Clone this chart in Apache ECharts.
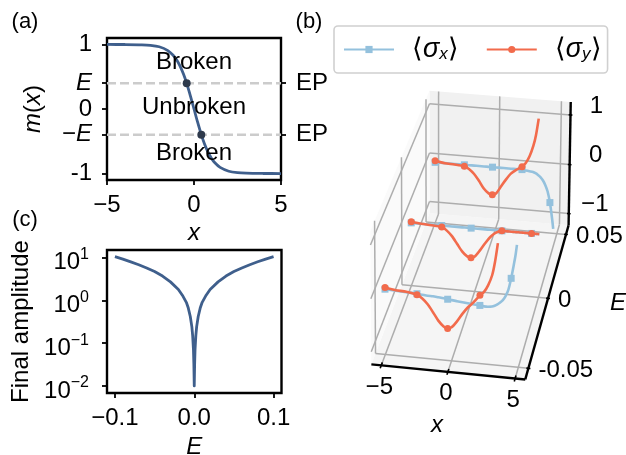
<!DOCTYPE html>
<html><head><meta charset="utf-8">
<style>html,body{margin:0;padding:0;background:#fff}#c{width:626px;height:455px}</style>
<script src="https://cdn.jsdelivr.net/npm/echarts@6/dist/echarts.min.js"></script>
</head><body><div id="c"></div>
<script>
// ---------- data ----------
const magX = [-5,-4,-3,-2.5,-2,-1.5,-1.2,-1,-0.8,-0.6,-0.42,-0.2,0,0.2,0.42,0.6,0.8,1,1.2,1.5,2,2.5,3,4,5];
const magM = [1,0.999,0.995,0.987,0.964,0.905,0.834,0.762,0.664,0.537,0.397,0.197,0,-0.197,-0.397,-0.537,-0.664,-0.762,-0.834,-0.905,-0.964,-0.987,-0.995,-0.999,-1];
const epLevels = [0.4,-0.4];
const epX = [-0.42,0.42];
const ampE = [-0.1,-0.09,-0.08,-0.07,-0.06,-0.05,-0.04,-0.03,-0.02,-0.015,-0.01,-0.0075,-0.005,-0.003,-0.002,-0.001,-0.0005,0,0.0005,0.001,0.002,0.003,0.005,0.0075,0.01,0.015,0.02,0.03,0.04,0.05,0.06,0.07,0.08,0.09,0.1];
const ampV = [10.5,9.2,7.95,6.8,5.7,4.7,3.7,2.7,1.8,1.32,0.9,0.66,0.42,0.24,0.15,0.07,0.033,0.01,0.033,0.07,0.15,0.24,0.42,0.66,0.9,1.32,1.8,2.7,3.7,4.7,5.7,6.8,7.95,9.2,10.5];
const sliceE = [0.05,0,-0.05];
const xs = [-5,-4.2,-3.4,-2.6,-2.2,-1.8,-1.4,-1,-0.6,-0.3,0,0.4,0.8,1.2,1.6,2.1,2.4,2.7,3,3.2,3.4,3.6,3.8,4,4.2,4.4,4.6,4.7,4.8,5];
const markerX = [-5,-2.6,-0.3,2.1,4.4];
const sxBack  = [0,0,0,0,0,0,0,0,0,0,0,0,0,0,0,0,-0.01,-0.02,-0.03,-0.05,-0.08,-0.12,-0.18,-0.27,-0.4,-0.62,-0.95,-1.15,null,null];
const syBack  = [0.03,0,-0.01,-0.03,-0.08,-0.17,-0.3,-0.45,-0.54,-0.56,-0.53,-0.38,-0.23,-0.1,-0.02,0.06,0.14,0.28,0.5,0.72,1.05,null,null,null,null,null,null,null,null,null];
const sxMid   = [0,0,0,0,0,0,0,0,0,0,0,0,0,0,0,0,0,0,0,0,0,0,0,0,0,0,0,0,0,0];
const syMid   = [0.02,0,-0.01,-0.03,-0.09,-0.19,-0.33,-0.47,-0.56,-0.58,-0.55,-0.42,-0.27,-0.14,-0.05,0,0,0,0,0,0,0,0,0,0,0,0,0,0,0];
const sxFront = [0,-0.01,-0.02,-0.03,-0.04,-0.05,-0.05,-0.06,-0.07,-0.08,-0.09,-0.1,-0.11,-0.12,-0.13,-0.14,-0.15,-0.15,-0.14,-0.12,-0.09,-0.05,0,0.08,0.2,0.42,0.7,0.85,1.05,null];
const syFront = [0.03,0,-0.01,-0.05,-0.11,-0.21,-0.35,-0.5,-0.6,-0.63,-0.6,-0.48,-0.33,-0.2,-0.1,0.05,0.12,0.25,0.45,0.7,1.05,null,null,null,null,null,null,null,null,null];
const xTicks3 = [-5,0,5], eTicks3 = [-0.05,0,0.05], zTicks3 = [-1,0,1];
const eTickText = ['-0.05','0','0.05'], zTickText = ['−1','0','1'], xTickText = ['−5','0','5'];

// ---------- colours and type ----------
const FONT = '"Liberation Sans", Arial, sans-serif';
const NAVY = '#3f5f8c', DOT = '#2e3a4c', BLUE = '#94c1dd', RED = '#f26b4c', GRID = '#adadad';
const FS = 24;

// ---------- projection of panel (b): box limits and camera fit ----------
const XL = 5.75, EL = 0.0575, ZMIN = -1.24, ZMAX = 1.26;
const anchors = [
 [-XL,-EL,ZMIN,372,364],[XL,-EL,ZMIN,525,380],[XL,EL,ZMIN,568,225],[-XL,EL,ZMIN,427,215],
 [-XL,EL,ZMAX,430,90],[XL,EL,ZMAX,570,102],[-XL,-EL,ZMAX,370,232],
 [-5,-EL,ZMIN,381,365],[0,-EL,ZMIN,448,372],[5,-EL,ZMIN,515,378],
 [XL,-0.05,ZMIN,529,369],[XL,0,ZMIN,548,298],[XL,0.05,ZMIN,566,234],
 [XL,EL,1,570,115],[XL,EL,0,570,165],[XL,EL,-1,570,213],
 [-XL,EL,1,430,103],[-XL,EL,0,430,153],[-XL,EL,-1,430,202],
 [-XL,-EL,0,370,298],[-XL,0,ZMIN,403,284],[0,EL,ZMAX,500,97]
];
function norm3(x,e,z){return [x/XL,e/EL,z/ZMAX];}
function fitCamera(){
  const A=[],b=[];
  anchors.forEach(a=>{
    const [X,Y,Z]=norm3(a[0],a[1],a[2]),u=a[3]/100,v=a[4]/100;
    A.push([X,Y,Z,1,0,0,0,0,-u*X,-u*Y,-u*Z]);b.push(u);
    A.push([0,0,0,0,X,Y,Z,1,-v*X,-v*Y,-v*Z]);b.push(v);
  });
  const n=11,M=[];
  for(let i=0;i<n;i++){M.push([]);for(let j=0;j<=n;j++){let s=0;
    for(let k=0;k<A.length;k++)s+=A[k][i]*(j<n?A[k][j]:b[k]);M[i].push(s);}}
  for(let i=0;i<n;i++){let p=i;for(let r=i+1;r<n;r++)if(Math.abs(M[r][i])>Math.abs(M[p][i]))p=r;
    [M[i],M[p]]=[M[p],M[i]];
    for(let r=0;r<n;r++)if(r!==i){const f=M[r][i]/M[i][i];for(let c=i;c<=n;c++)M[r][c]-=f*M[i][c];}}
  return M.map((row,i)=>row[n]/row[i]);
}
const P=fitCamera();
function proj(x,e,z){
  const [X,Y,Z]=norm3(x,e,z),w=P[8]*X+P[9]*Y+P[10]*Z+1;
  return [100*(P[0]*X+P[1]*Y+P[2]*Z+P[3])/w,100*(P[4]*X+P[5]*Y+P[6]*Z+P[7])/w];
}

// ---------- panel (b) builders ----------
const series3=[];
function seg(a,b,color,width,z){
  series3.push({type:'line',xAxisIndex:2,yAxisIndex:3,silent:true,showSymbol:false,symbol:'none',z:z,
    lineStyle:{color:color,width:width,cap:'butt'},data:[proj(...a),proj(...b)]});
}
function pane(corners,fill){
  series3.push({type:'custom',xAxisIndex:2,yAxisIndex:3,silent:true,z:1,clip:false,
    data:[[0,0]],renderItem:(p,api)=>({type:'polygon',
      shape:{points:corners.map(c=>api.coord(proj(...c)))},style:{fill:fill}})});
}
pane([[-XL,-EL,ZMIN],[XL,-EL,ZMIN],[XL,EL,ZMIN],[-XL,EL,ZMIN]],'#f5f5f5');
pane([[-XL,EL,ZMIN],[XL,EL,ZMIN],[XL,EL,ZMAX],[-XL,EL,ZMAX]],'#f1f1f1');
pane([[-XL,-EL,ZMIN],[-XL,EL,ZMIN],[-XL,EL,ZMAX],[-XL,-EL,ZMAX]],'#fafafa');
xTicks3.forEach(x=>{seg([x,-EL,ZMIN],[x,EL,ZMIN],GRID,1.5,2);seg([x,EL,ZMIN],[x,EL,ZMAX],GRID,1.5,2);});
eTicks3.forEach(e=>{seg([XL,e,ZMIN],[-XL,e,ZMIN],GRID,1.5,2);seg([-XL,e,ZMIN],[-XL,e,ZMAX],GRID,1.5,2);});
zTicks3.forEach(z=>{seg([-XL,-EL,z],[-XL,EL,z],GRID,1.5,2);seg([-XL,EL,z],[XL,EL,z],GRID,1.5,2);});
seg([-XL,-EL,ZMIN],[XL,-EL,ZMIN],'#000',2.4,3);
seg([XL,-EL,ZMIN],[XL,EL,ZMIN],'#000',2.4,3);
seg([XL,EL,ZMIN],[XL,EL,ZMAX],'#000',2.4,3);
xTicks3.forEach(x=>seg([x,-EL-0.002,ZMIN],[x,-EL+0.002,ZMIN],'#000',1.6,3));
eTicks3.forEach(e=>seg([XL-0.15,e,ZMIN],[XL+0.15,e,ZMIN],'#000',1.6,3));
zTicks3.forEach(z=>seg([XL-0.15,EL,z],[XL+0.15,EL,z],'#000',1.6,3));

function curve(name,e,vals,color,sym,size,z){
  const data=[];
  vals.forEach((v,i)=>{ if(v===null) return;
    const pt={value:proj(xs[i],e,v)};
    if(!markerX.includes(xs[i])) pt.symbol='none';
    data.push(pt);});
  series3.push({name:name,type:'line',xAxisIndex:2,yAxisIndex:3,silent:true,smooth:0.25,z:z,
    symbol:sym,symbolSize:size,showSymbol:true,showAllSymbol:true,
    itemStyle:{color:color},lineStyle:{color:color,width:2.6},data:data});
}
const SX='sx',SY='sy';
[[sxBack,syBack],[sxMid,syMid],[sxFront,syFront]].forEach((pair,i)=>{
  curve(SX,sliceE[i],pair[0],BLUE,'rect',7,5+2*i);
  curve(SY,sliceE[i],pair[1],RED,'circle',7,6+2*i);
});

function labels3(items,offset,align){
  series3.push({type:'scatter',xAxisIndex:2,yAxisIndex:3,silent:true,symbolSize:0,z:10,
    itemStyle:{opacity:1},
    label:{show:true,position:'inside',offset:offset,align:align,color:'#000',opacity:1,fontFamily:FONT,fontSize:FS,
      formatter:p=>p.data.text},
    data:items});
}
labels3(xTicks3.map((x,i)=>({value:proj(x,-EL,ZMIN),text:xTickText[i]})),[-2,22],'center');
labels3(eTicks3.map((e,i)=>({value:proj(XL,e,ZMIN),text:eTickText[i]})),[10,2],'left');
labels3(zTicks3.map((z,i)=>({value:proj(XL,EL,z),text:zTickText[i]})),[26,-9],'center');

// ---------- options ----------
const tickTxt = {fontFamily:FONT,fontSize:FS,color:'#000'};
const rich = {i:{fontFamily:FONT,fontSize:FS,fontStyle:'italic',color:'#000'},
  b:{fontFamily:FONT,fontSize:FS,color:'#000',lineHeight:32},
  s:{fontFamily:FONT,fontSize:16,color:'#000',lineHeight:4,verticalAlign:'top'}};
const tick = {show:true,length:5,lineStyle:{color:'#000',width:1.8}};
const edge = {show:false,onZero:false};
const aLabel = {'1':'1','0.4':'{i|E}','0':'0','-0.4':'−{i|E}','-1':'-1'};
function txt(t,x,y,o){return Object.assign({type:'text',x:x,y:y,style:Object.assign({text:t,fontFamily:FONT,fontSize:FS,fill:'#000',align:'center',verticalAlign:'middle'},o||{})},{z:20});}

const option={
  animation:false,backgroundColor:'#fff',textStyle:{fontFamily:FONT},
  grid:[
    {left:107,top:38,width:174,height:142,show:true,borderColor:'#000',borderWidth:2.4,backgroundColor:'#fff',outerBoundsMode:'none'},
    {left:107,top:250,width:174.5,height:143,show:true,borderColor:'#000',borderWidth:2.4,backgroundColor:'#fff',outerBoundsMode:'none'},
    {left:0,top:0,right:0,bottom:0,outerBoundsMode:'none'}
  ],
  xAxis:[
    {type:'value',gridIndex:0,min:-5,max:5,interval:5,splitLine:{show:false},axisLine:edge,axisTick:tick,
     axisLabel:Object.assign({margin:13,formatter:v=>String(v).replace('-','−')},tickTxt),
     name:'x',nameLocation:'middle',nameGap:41,nameTextStyle:{fontFamily:FONT,fontSize:FS,fontStyle:'italic',color:'#000'}},
    {type:'value',gridIndex:1,min:-0.11,max:0.11,splitLine:{show:false},axisLine:edge,
     axisTick:Object.assign({customValues:[-0.1,0,0.1]},tick),
     axisLabel:Object.assign({margin:13,customValues:[-0.1,0,0.1],formatter:v=>v.toFixed(1).replace('-','−')},tickTxt),
     name:'E',nameLocation:'middle',nameGap:42,nameTextStyle:{fontFamily:FONT,fontSize:FS,fontStyle:'italic',color:'#000'}},
    {type:'value',gridIndex:2,min:0,max:626,show:false}
  ],
  yAxis:[
    {type:'value',gridIndex:0,min:-1.1,max:1.1,splitLine:{show:false},axisLine:edge,
     axisTick:Object.assign({customValues:[-1,-0.4,0,0.4,1]},tick),
     axisLabel:Object.assign({margin:15,customValues:[-1,-0.4,0,0.4,1],rich:rich,formatter:v=>aLabel[String(v)]},tickTxt),
     name:'{i|m}({i|x})',nameLocation:'middle',nameGap:62,nameRotate:90,
     nameTextStyle:{fontFamily:FONT,fontSize:FS,color:'#000',rich:rich}},
    {type:'value',gridIndex:0,position:'right',min:-1.1,max:1.1,splitLine:{show:false},axisLine:edge,
     axisTick:Object.assign({customValues:[-0.4,0.4]},tick),
     axisLabel:Object.assign({margin:15,customValues:[-0.4,0.4],formatter:()=>'EP'},tickTxt)},
    {type:'value',gridIndex:1,min:Math.log10(0.00685),max:Math.log10(15),splitLine:{show:false},axisLine:edge,
     axisTick:Object.assign({customValues:[-2,-1,0,1]},tick),
     axisLabel:Object.assign({margin:18,padding:[10,0,0,0],customValues:[-2,-1,0,1],rich:rich,
       formatter:v=>'{b|10}{s|'+String(v).replace('-','−')+'}'},tickTxt),
     name:'Final amplitude',nameLocation:'middle',nameGap:74,nameRotate:90,
     nameTextStyle:{fontFamily:FONT,fontSize:FS,color:'#000'}},
    {type:'value',gridIndex:2,min:0,max:455,inverse:true,show:false}
  ],
  legend:{left:334,top:26,padding:[10,6,10,9],itemWidth:50,itemHeight:9,itemGap:27,
    borderColor:'#d0d0d0',borderWidth:1.6,borderRadius:4,backgroundColor:'#fff',
    data:[SX,SY],selectedMode:false,
    formatter:n=>n===SX?'{n|⟨}{g|σ}{u|x}{n|⟩}':'{n|⟨}{g|σ}{u|y}{n|⟩}',
    textStyle:{fontFamily:FONT,fontSize:FS,color:'#000',padding:[0,0,0,13],
      rich:{g:{fontFamily:FONT,fontSize:27,fontStyle:'italic',color:'#000',lineHeight:26},
            n:{fontFamily:FONT,fontSize:27,color:'#000',lineHeight:26},
            u:{fontFamily:FONT,fontSize:17,fontStyle:'italic',color:'#000',lineHeight:26,verticalAlign:'bottom',padding:[8,0,0,0]}}}},
  series:[
    ...epLevels.map(l=>({type:'line',xAxisIndex:0,yAxisIndex:0,silent:true,symbol:'none',z:2,
      lineStyle:{color:'#cccccc',width:2.4,type:[9,4]},data:[[-5,l],[5,l]]})),
    {type:'line',xAxisIndex:0,yAxisIndex:0,silent:true,symbol:'none',smooth:0.3,z:3,
      lineStyle:{color:NAVY,width:2.8},data:magX.map((x,i)=>[x,magM[i]])},
    {type:'scatter',xAxisIndex:0,yAxisIndex:0,silent:true,symbolSize:8,z:4,itemStyle:{color:DOT,opacity:1},
      data:epX.map((x,i)=>[x,epLevels[i]])},
    {type:'line',xAxisIndex:1,yAxisIndex:2,silent:true,symbol:'none',z:3,
      lineStyle:{color:NAVY,width:2.8,join:'round'},data:ampE.map((e,i)=>[e,Math.log10(ampV[i])])},
    ...series3
  ],
  graphic:[
    txt('(a)',25,22,{fontSize:22}),txt('(b)',309,22,{fontSize:22}),txt('(c)',25,220,{fontSize:22}),
    txt('Broken',194,62),txt('Unbroken',194,107),txt('Broken',194,153),
    txt('x',437,425,{fontStyle:'italic'}),txt('E',618,303,{fontStyle:'italic'})
  ]
};
const chart=echarts.init(document.getElementById('c'),null,{renderer:'canvas'});
chart.setOption(option);
</script></body></html>
